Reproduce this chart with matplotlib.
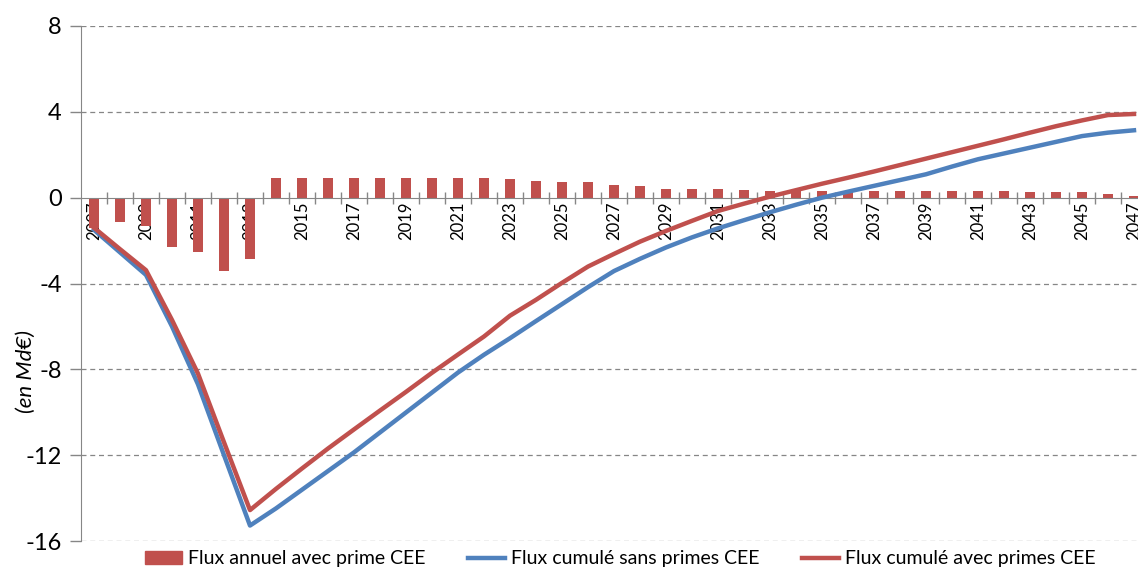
import numpy as np
import matplotlib.pyplot as plt
from matplotlib.patches import Patch
from matplotlib.lines import Line2D

plt.rcParams['font.family'] = ['Lato', 'DejaVu Sans']
plt.rcParams['axes.unicode_minus'] = False

years = list(range(2007, 2048))

# annual flux with CEE premium (Md€)
flux_annuel = [-1.4, -1.13, -1.3, -2.29, -2.52, -3.41, -2.88,
               0.93, 0.93, 0.93, 0.93, 0.93, 0.93, 0.93, 0.93, 0.93,
               0.86, 0.8, 0.75, 0.72, 0.6, 0.54, 0.41, 0.41, 0.41,
               0.35, 0.3, 0.3, 0.3, 0.28, 0.31, 0.31, 0.31, 0.31,
               0.31, 0.31, 0.25, 0.25, 0.25, 0.17, 0.08]

# cumulated flux without premiums
cumul_sans = [-1.5, -2.55, -3.6, -6.0, -8.7, -12.0, -15.28,
              -14.48, -13.61, -12.74, -11.87, -10.94, -10.01, -9.08, -8.15,
              -7.32, -6.55, -5.75, -4.96, -4.17, -3.42, -2.85, -2.32,
              -1.85, -1.43, -1.05, -0.68, -0.33, 0.0, 0.28, 0.55, 0.82,
              1.09, 1.45, 1.79, 2.06, 2.33, 2.6, 2.87, 3.03, 3.14]

# cumulated flux with premiums
cumul_avec = [-1.4, -2.4, -3.38, -5.7, -8.2, -11.4, -14.56,
              -13.57, -12.62, -11.69, -10.8, -9.92, -9.05, -8.16, -7.31,
              -6.47, -5.5, -4.76, -3.97, -3.21, -2.62, -2.05, -1.55,
              -1.08, -0.62, -0.28, 0.05, 0.35, 0.65, 0.93, 1.22, 1.52,
              1.82, 2.12, 2.42, 2.72, 3.03, 3.33, 3.6, 3.85, 3.9]

red = '#C0504D'
blue = '#4F81BD'
grey = '#868686'

x = np.arange(len(years))

fig = plt.figure(figsize=(11.38, 5.78), dpi=100)
ax = fig.add_axes([81 / 1138, 37 / 578, (1147 - 81) / 1138, 515 / 578])

ax.bar(x, flux_annuel, width=0.4, color=red, zorder=2)
ax.plot(x, cumul_sans, color=blue, lw=3.2, zorder=3)
ax.plot(x, cumul_avec, color=red, lw=3.2, zorder=4)

ax.set_xlim(-0.5, len(years) - 0.5)
ax.set_ylim(-16, 8)
ax.set_yticks([-16, -12, -8, -4, 0, 4, 8])
ax.tick_params(axis='y', labelsize=17, length=8, color=grey, width=1, pad=6)
for yv in [-16, -12, -8, -4, 4, 8]:
    ax.axhline(yv, color=grey, lw=0.9, ls=(0, (4, 3)), zorder=1)

# category axis crossing at zero
ax.spines['bottom'].set_position(('data', 0))
ax.spines['bottom'].set_color(grey)
ax.spines['left'].set_color(grey)
ax.spines['top'].set_visible(False)
ax.spines['right'].set_visible(False)

ax.set_xticks(x[::2])
ax.set_xticklabels([str(y) for y in years[::2]], rotation=90, fontsize=12)
ax.set_xticks(np.arange(len(years) - 1) + 0.5, minor=True)
ax.tick_params(axis='x', which='major', length=0, pad=3)
ax.tick_params(axis='x', which='minor', length=8, direction='inout', color=grey, width=1)

ax.set_ylabel('(en Md€)', fontsize=16, style='italic')
ax.yaxis.set_label_coords(-0.042, 0.33)

handles = [Patch(color=red),
           Line2D([], [], color=blue, lw=3.2),
           Line2D([], [], color=red, lw=3.2)]
labels = ['Flux annuel avec prime CEE', 'Flux cumulé sans primes CEE',
          'Flux cumulé avec primes CEE']
fig.legend(handles, labels, loc='lower center', bbox_to_anchor=(0.545, -0.012),
           ncol=3, frameon=False, fontsize=14, handlelength=1.9,
           columnspacing=2.2, handletextpad=0.3)

fig.savefig('out.png', dpi=100)
